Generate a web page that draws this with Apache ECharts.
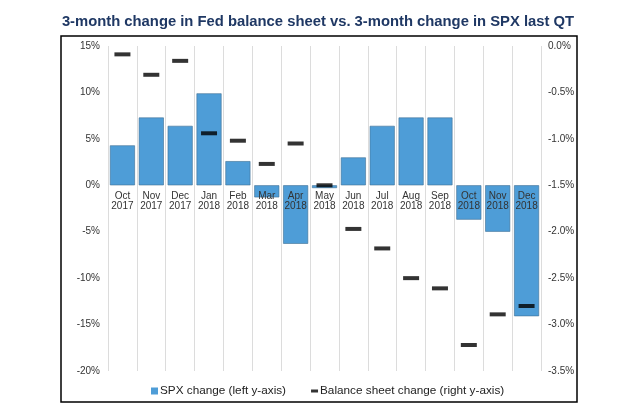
<!DOCTYPE html>
<html>
<head>
<meta charset="utf-8">
<script src="https://cdn.jsdelivr.net/npm/echarts@6/dist/echarts.min.js"></script>
<style>
html,body{margin:0;padding:0;background:#fff;}
#c{width:636px;height:418px;}
</style>
</head>
<body>
<div id="c"></div>
<script>
var categories = ['Oct\n2017','Nov\n2017','Dec\n2017','Jan\n2018','Feb\n2018','Mar\n2018','Apr\n2018','May\n2018','Jun\n2018','Jul\n2018','Aug\n2018','Sep\n2018','Oct\n2018','Nov\n2018','Dec\n2018'];
var spxChange = [4.3, 7.3, 6.4, 9.9, 2.6, -1.3, -6.3, -0.3, 3.0, 6.4, 7.3, 7.3, -3.7, -5.0, -14.1];
var balanceSheetChange = [-0.09, -0.31, -0.16, -0.94, -1.02, -1.27, -1.05, -1.50, -1.97, -2.18, -2.50, -2.61, -3.22, -2.89, -2.80];
var leftTicks = {min: -20, max: 15, interval: 5};
var rightTicks = {min: -3.5, max: 0, interval: 0.5};

var gridTop = 46, gridBottom = 47, H = 418;
var gridH = H - gridTop - gridBottom;
// move the category axis up onto the left axis' zero line
var zeroOffset = -gridH * (0 - leftTicks.min) / (leftTicks.max - leftTicks.min);

var chart = echarts.init(document.getElementById('c'));
var font = 'Liberation Sans, Arial, sans-serif';
chart.setOption({
  backgroundColor: '#fff',
  animation: false,
  title: {
    text: '3-month change in Fed balance sheet vs. 3-month change in SPX last QT',
    left: 'center', top: 9,
    textStyle: {fontFamily: font, fontSize: 14.8, fontWeight: 'bold', color: '#1F3864'}
  },
  graphic: [{
    type: 'rect', shape: {x: 61, y: 36, width: 516, height: 366},
    style: {fill: 'none', stroke: '#000', lineWidth: 1.5}, z: 0, silent: true
  }],
  legend: {
    bottom: 16, left: 146, itemGap: 25,
    textStyle: {fontFamily: font, fontSize: 11.75, color: '#222', padding: [0, 0, 0, -3]},
    data: [
      {name: 'SPX change (left y-axis)', icon: 'rect', itemStyle: {color: '#4E9DD7', borderWidth: 0}},
      {name: 'Balance sheet change (right y-axis)',
       icon: 'path://M0,0L0.01,0M0,7L0.01,7M0,2H7V5H0Z', itemStyle: {color: '#000'}}
    ],
    itemWidth: 7, itemHeight: 7
  },
  grid: {left: 108, right: 95, top: gridTop, bottom: gridBottom, containLabel: false},
  xAxis: {
    type: 'category', data: categories, z: 5, position: 'bottom', offset: zeroOffset,
    axisLine: {show: false, onZero: false},
    axisTick: {show: false},
    splitLine: {show: true, lineStyle: {color: '#dcdcdc', width: 1}},
    axisLabel: {fontFamily: font, fontSize: 10, lineHeight: 10, color: '#333', margin: 6, interval: 0}
  },
  yAxis: [{
    type: 'value', min: leftTicks.min, max: leftTicks.max, interval: leftTicks.interval,
    axisLine: {show: false}, axisTick: {show: false}, splitLine: {show: false},
    axisLabel: {fontFamily: font, fontSize: 10, color: '#333', margin: 8, formatter: '{value}%'}
  }, {
    type: 'value', min: rightTicks.min, max: rightTicks.max, interval: rightTicks.interval,
    axisLine: {show: false}, axisTick: {show: false}, splitLine: {show: false},
    axisLabel: {fontFamily: font, fontSize: 10, color: '#333', margin: 7,
      formatter: function(v){ return v.toFixed(1) + '%'; }}
  }],
  series: [{
    name: 'SPX change (left y-axis)', type: 'bar', yAxisIndex: 0,
    data: spxChange, barWidth: 25,
    itemStyle: {color: '#4E9DD7', borderColor: '#3E6F94', borderWidth: 0.6}
  }, {
    name: 'Balance sheet change (right y-axis)', type: 'scatter', yAxisIndex: 1,
    data: balanceSheetChange, symbol: 'rect', symbolSize: [16, 4], z: 6,
    itemStyle: {color: '#000'}
  }]
});
</script>
</body>
</html>
